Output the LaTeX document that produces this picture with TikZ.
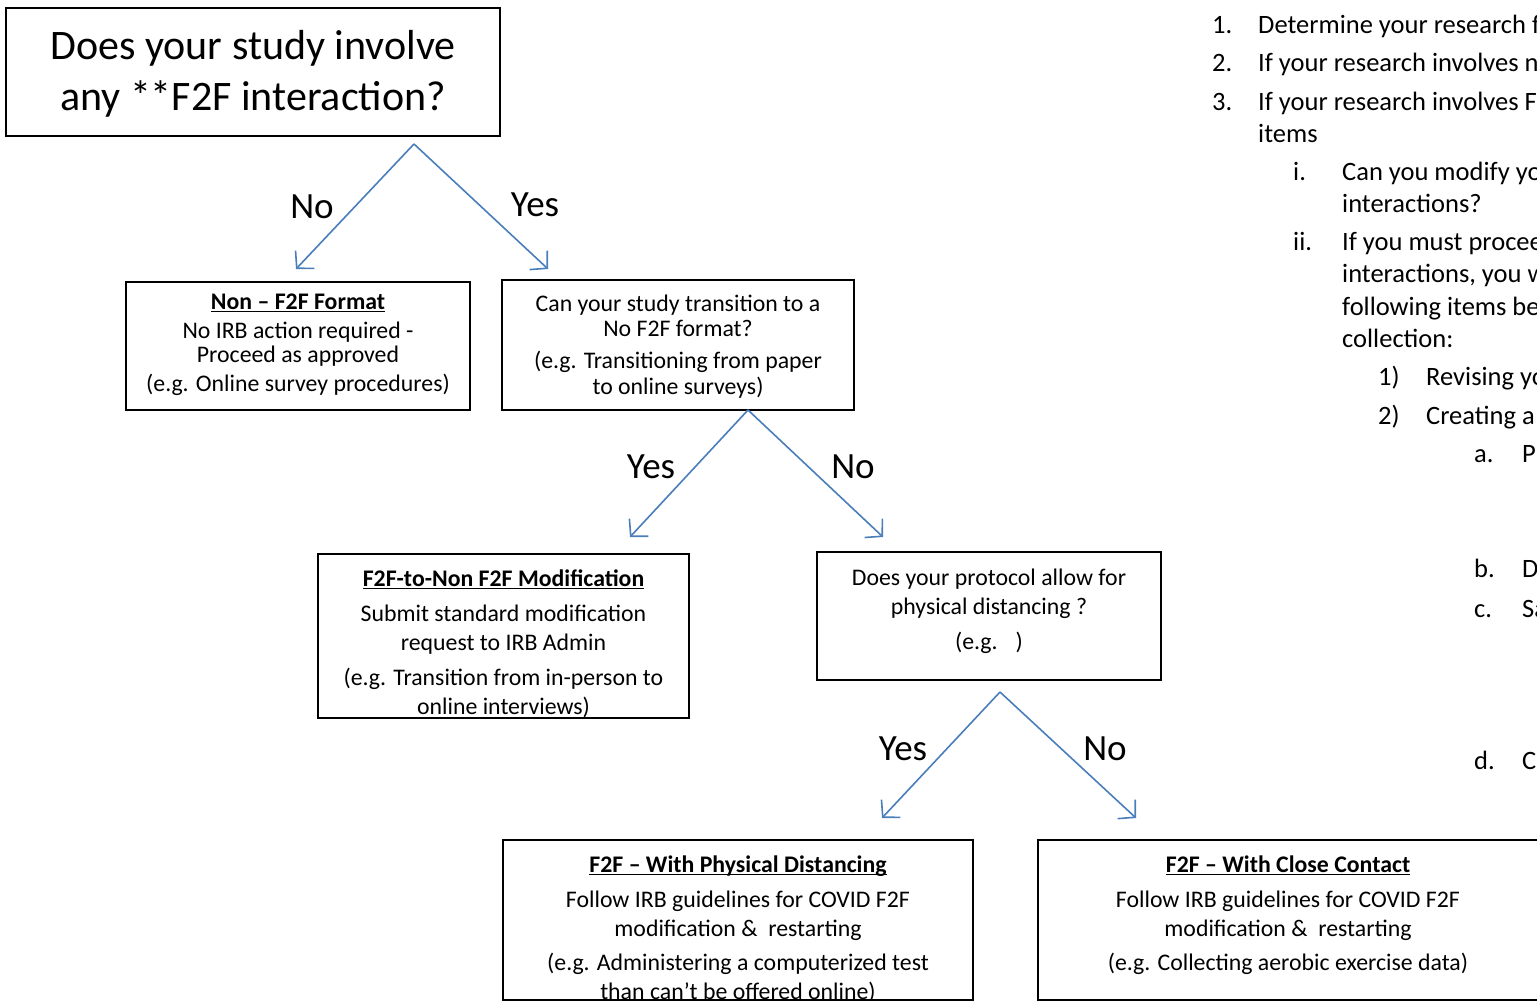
\documentclass[tikz,border=0pt]{standalone}
\usepackage{fontspec}
\setmainfont{Carlito}
\usepackage{xcolor}
\usepackage{tikz}
\usetikzlibrary{arrows.meta}

\definecolor{arrowblue}{HTML}{4A7EBB}
\newcommand{\boxhead}[1]{\underline{\smash{\textbf{#1}}}}

\begin{document}
\begin{tikzpicture}[x=1pt, y=-1pt,
  box/.style={draw, line width=1.6pt, inner sep=0pt},
  boxtext/.style={align=center, inner sep=0pt, font=\fontsize{23.8}{29}\selectfont},
  yesno/.style={inner sep=0pt, font=\fontsize{37}{44}\selectfont},
  listtext/.style={anchor=base west, inner sep=0pt, font=\fontsize{26.5}{32}\selectfont},
  branch/.style={draw=arrowblue, line width=1.6pt, -{Straight Barb[length=12pt, width=26pt, line width=1.6pt]}}]
\useasboundingbox (0,0) rectangle (1537,1001);

% question boxes
\node [box, minimum width=494pt, minimum height=128pt] (q1) at (253,72) {};
\node [boxtext, font=\fontsize{42}{51}\selectfont] (q1txt) at (253,74)
  {Does your study involve\\any **F2F interaction?};
\node [box, minimum width=352pt, minimum height=130pt] (q2) at (678,345) {};
\node [boxtext] (q2txt) at (678,347)
  {Can your study transition to a\\[-4pt]No F2F format?\\[3pt](e.g. Transitioning from paper\\[-3pt]to online surveys)};
\node [box, minimum width=344pt, minimum height=128pt] (q3) at (989,616) {};
\node [boxtext] (q3txt) at (989,611)
  {Does your protocol allow for\\physical distancing ?\\[6pt](e.g. \ \ )};

% outcome boxes
\node [box, minimum width=344pt, minimum height=128pt] (nonf2f) at (298,346) {};
\node [boxtext] (nonf2ftxt) at (298,353)
  {\boxhead{Non -- F2F Format}\\No IRB action required -\\[-5pt]Proceed as approved\\(e.g. Online survey procedures)};
\node [box, minimum width=371pt, minimum height=164pt] (modif) at (503.5,636) {};
\node [boxtext] (modiftxt) at (503.5,652)
  {\boxhead{F2F-to-Non F2F Modification}\\[6pt]Submit standard modification\\request to IRB Admin\\[6pt](e.g. Transition from in-person to\\online interviews)};
\node [box, minimum width=470pt, minimum height=160pt] (distance) at (738,920) {};
\node [boxtext] (distancetxt) at (738,938)
  {\boxhead{F2F -- With Physical Distancing}\\[6pt]Follow IRB guidelines for COVID F2F\\modification \& \ restarting\\[5pt](e.g. Administering a computerized test\\than can't be offered online)};
\node [box, minimum width=501pt, minimum height=160pt] (contact) at (1288.5,920) {};
\node [boxtext] (contacttxt) at (1288,924)
  {\boxhead{F2F -- With Close Contact}\\[6pt]Follow IRB guidelines for COVID F2F\\modification \& \ restarting\\[5pt](e.g. Collecting aerobic exercise data)};

% branches
\coordinate (fork1) at (414,144);
\coordinate (tip1no) at (296,269);
\coordinate (tip1yes) at (548,269);
\draw [branch] (fork1) -- (tip1no);
\draw [branch] (fork1) -- (tip1yes);
\node [yesno] (no1) at (312,207) {No};
\node [yesno] (yes1) at (535,205) {Yes};

\coordinate (fork2) at (748,410);
\coordinate (tip2yes) at (630,537);
\coordinate (tip2no) at (883,537);
\draw [branch] (fork2) -- (tip2yes);
\draw [branch] (fork2) -- (tip2no);
\node [yesno] (yes2) at (651,467) {Yes};
\node [yesno] (no2) at (853,467) {No};

\coordinate (fork3) at (1000,692);
\coordinate (tip3yes) at (882,818);
\coordinate (tip3no) at (1136,818);
\draw [branch] (fork3) -- (tip3yes);
\draw [branch] (fork3) -- (tip3no);
\node [yesno] (yes3) at (903,749) {Yes};
\node [yesno] (no3) at (1105,749) {No};

% steps list, cut by the page edge
\node [listtext] (n1) at (1212,33) {1.};
\node [listtext] (t1) at (1258,33) {Determine your research f};
\node [listtext] (n2) at (1212,71) {2.};
\node [listtext] (t2) at (1258,71) {If your research involves n};
\node [listtext] (n3) at (1212,110) {3.};
\node [listtext] (t3) at (1258,110) {If your research involves F};
\node [listtext] (t3b) at (1258,142) {items};
\node [listtext] (ni) at (1293,180) {i.};
\node [listtext] (ti) at (1342,180) {Can you modify yo};
\node [listtext] (tib) at (1342,212) {interactions?};
\node [listtext] (nii) at (1293,250) {ii.};
\node [listtext] (tii) at (1342,250) {If you must procee};
\node [listtext] (tiib) at (1342,282) {interactions, you w};
\node [listtext] (tiic) at (1342,315) {following items be};
\node [listtext] (tiid) at (1342,347) {collection:};
\node [listtext] (n1p) at (1378,385) {1)};
\node [listtext] (t1p) at (1426,385) {Revising yo};
\node [listtext] (n2p) at (1378,424) {2)};
\node [listtext] (t2p) at (1426,424) {Creating a};
\node [listtext] (na) at (1474,462) {a.};
\node [listtext] (ta) at (1522,462) {P};
\node [listtext] (nb) at (1474,577) {b.};
\node [listtext] (tb) at (1522,577) {D};
\node [listtext] (nc) at (1474,617) {c.};
\node [listtext] (tc) at (1522,617) {Sa};
\node [listtext] (nd) at (1474,769) {d.};
\node [listtext] (td) at (1522,769) {Co};
\end{tikzpicture}
\end{document}
